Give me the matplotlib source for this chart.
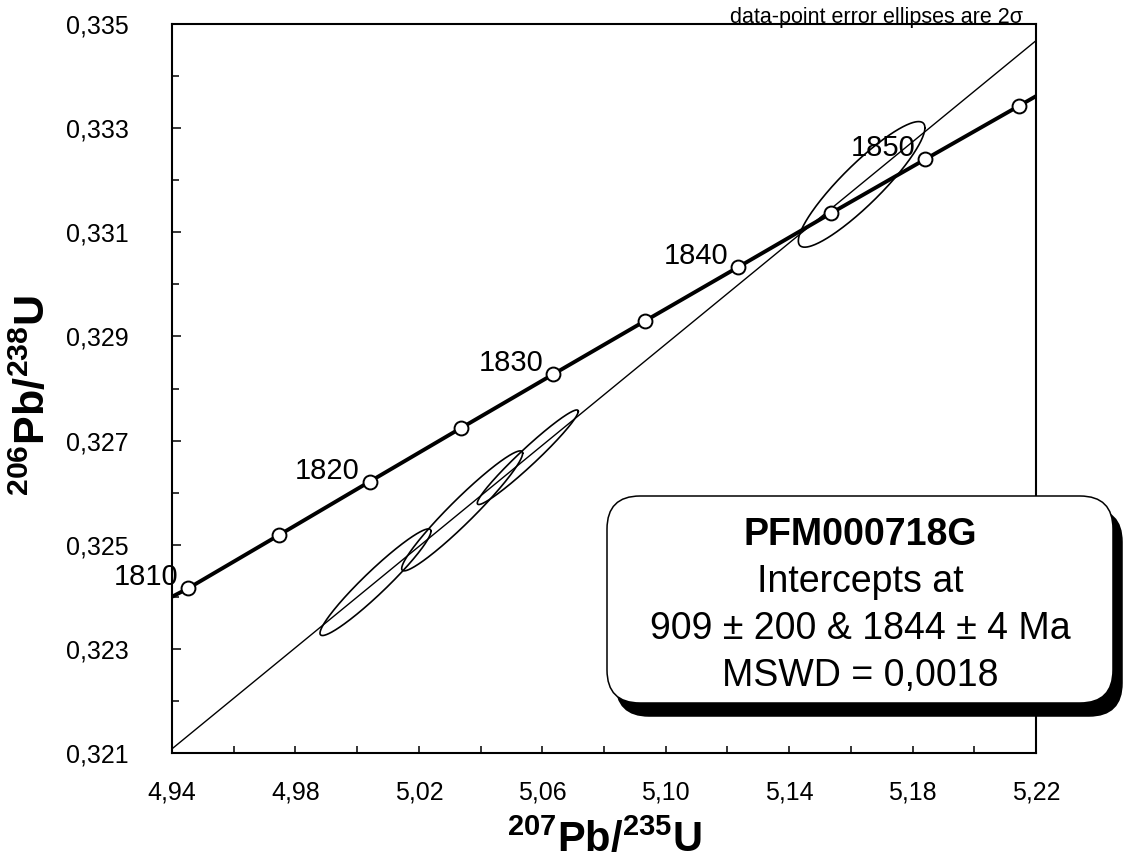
import numpy as np
import matplotlib
matplotlib.use("Agg")
import matplotlib.pyplot as plt
from matplotlib.patches import FancyBboxPatch
from matplotlib.ticker import MultipleLocator

plt.rcParams['font.family'] = ['Liberation Sans', 'DejaVu Sans']
plt.rcParams['mathtext.fontset'] = 'custom'
plt.rcParams['mathtext.rm'] = 'Liberation Sans'
plt.rcParams['mathtext.bf'] = 'Liberation Sans:bold'

# concordia curve points (age in Ma, 207Pb/235U, 206Pb/238U)
conc_age = [1805, 1810, 1815, 1820, 1825, 1830, 1835, 1840, 1845, 1850, 1855, 1860]
conc_x = [4.91596, 4.94517, 4.97452, 5.00401, 5.03364, 5.06343, 5.09336,
          5.12344, 5.15367, 5.18404, 5.21457, 5.24525]
conc_y = [0.32326, 0.32416, 0.32518, 0.32621, 0.32724, 0.32827, 0.32930,
          0.33033, 0.33137, 0.33240, 0.33343, 0.33447]
labelled_ages = [1810, 1820, 1830, 1840, 1850]

# discordia line
disc_x = [4.94, 5.22]
disc_y = [0.32108, 0.33468]

# data-point error ellipses (centre, 2 sigma, error correlation)
ell_x = [5.00594, 5.03404, 5.05530, 5.16349]
ell_sx = [0.01798, 0.01960, 0.01636, 0.02051]
ell_y = [0.32428, 0.32565, 0.32668, 0.33192]
ell_sy = [0.001024, 0.001152, 0.000908, 0.001206]
ell_rho = [0.955, 0.96, 0.97, 0.90]

x_ticks = [4.94, 4.98, 5.02, 5.06, 5.10, 5.14, 5.18, 5.22]
x_tick_labels = ['4,94', '4,98', '5,02', '5,06', '5,10', '5,14', '5,18', '5,22']
y_ticks = [0.321, 0.323, 0.325, 0.327, 0.329, 0.331, 0.333, 0.335]
y_tick_labels = ['0,321', '0,323', '0,325', '0,327', '0,329', '0,331', '0,333', '0,335']

sample = 'PFM000718G'
result_lines = ['Intercepts at', '909 ± 200 & 1844 ± 4 Ma', 'MSWD = 0,0018']

fig = plt.figure(figsize=(11.29, 8.63), dpi=100)
ax = fig.add_axes([172 / 1129, 110 / 863, 864 / 1129, 729 / 863])

# discordia
ax.plot(disc_x, disc_y, color='black', lw=1.0, zorder=2)

# ellipses
t = np.linspace(0, 2 * np.pi, 300)
for x, sx, y, sy, r in zip(ell_x, ell_sx, ell_y, ell_sy, ell_rho):
    ex = x + sx * np.cos(t)
    ey = y + sy * (r * np.cos(t) + np.sqrt(1 - r ** 2) * np.sin(t))
    ax.plot(ex, ey, color='black', lw=1.2, zorder=3)

# concordia
ax.plot(conc_x, conc_y, color='black', lw=2.8, zorder=4)
ax.plot(conc_x[1:-1], conc_y[1:-1], 'o', mfc='white', mec='black',
        ms=10, mew=1.4, zorder=5)
for age, x, y in zip(conc_age, conc_x, conc_y):
    if age in labelled_ages:
        ax.annotate(str(age), (x, y), xytext=(-7, 8), textcoords='offset points',
                    ha='right', va='center', fontsize=21, zorder=6,
                    annotation_clip=False)

ax.set_xlim(4.94, 5.22)
ax.set_ylim(0.321, 0.335)
ax.set_xticks(x_ticks)
ax.set_xticklabels(x_tick_labels)
ax.set_yticks(y_ticks)
ax.set_yticklabels(y_tick_labels)
ax.xaxis.set_minor_locator(MultipleLocator(0.02))
ax.yaxis.set_minor_locator(MultipleLocator(0.001))
ax.tick_params(axis='both', which='both', direction='in', width=1.1,
               top=False, right=False, labelsize=18)
ax.tick_params(axis='y', which='major', length=6.5, pad=31)
ax.tick_params(axis='y', which='minor', length=5)
ax.tick_params(axis='x', which='both', length=5, pad=20)
for s in ax.spines.values():
    s.set_linewidth(1.5)

ax.set_xlabel(r'$\mathbf{^{207}Pb/^{235}U}$', fontsize=30)
ax.set_ylabel(r'$\mathbf{^{206}Pb/^{238}U}$', fontsize=31)
ax.xaxis.set_label_coords(0.5, -0.091)
ax.yaxis.set_label_coords(-0.137, 0.49)

ax.text(0.985, 1.002, 'data-point error ellipses are 2σ', transform=ax.transAxes,
        ha='right', va='baseline', fontsize=15.5)

# result box drawn in figure pixel space
ov = fig.add_axes([0, 0, 1, 1], zorder=10)
ov.set_xlim(0, 1129)
ov.set_ylim(863, 0)
ov.axis('off')
ov.patch.set_alpha(0)
ov.add_patch(FancyBboxPatch((616, 509), 506, 207,
                            boxstyle='round,pad=0,rounding_size=33',
                            fc='black', ec='black', lw=1.1))
ov.add_patch(FancyBboxPatch((607, 496), 506, 207,
                            boxstyle='round,pad=0,rounding_size=33',
                            fc='white', ec='black', lw=1.1))
ov.text(860, 545, sample, ha='center', va='baseline', fontsize=27, fontweight='bold')
for i, line in enumerate(result_lines):
    ov.text(860, 592 + 47 * i, line, ha='center', va='baseline', fontsize=27)

fig.savefig('out.png', dpi=100)
